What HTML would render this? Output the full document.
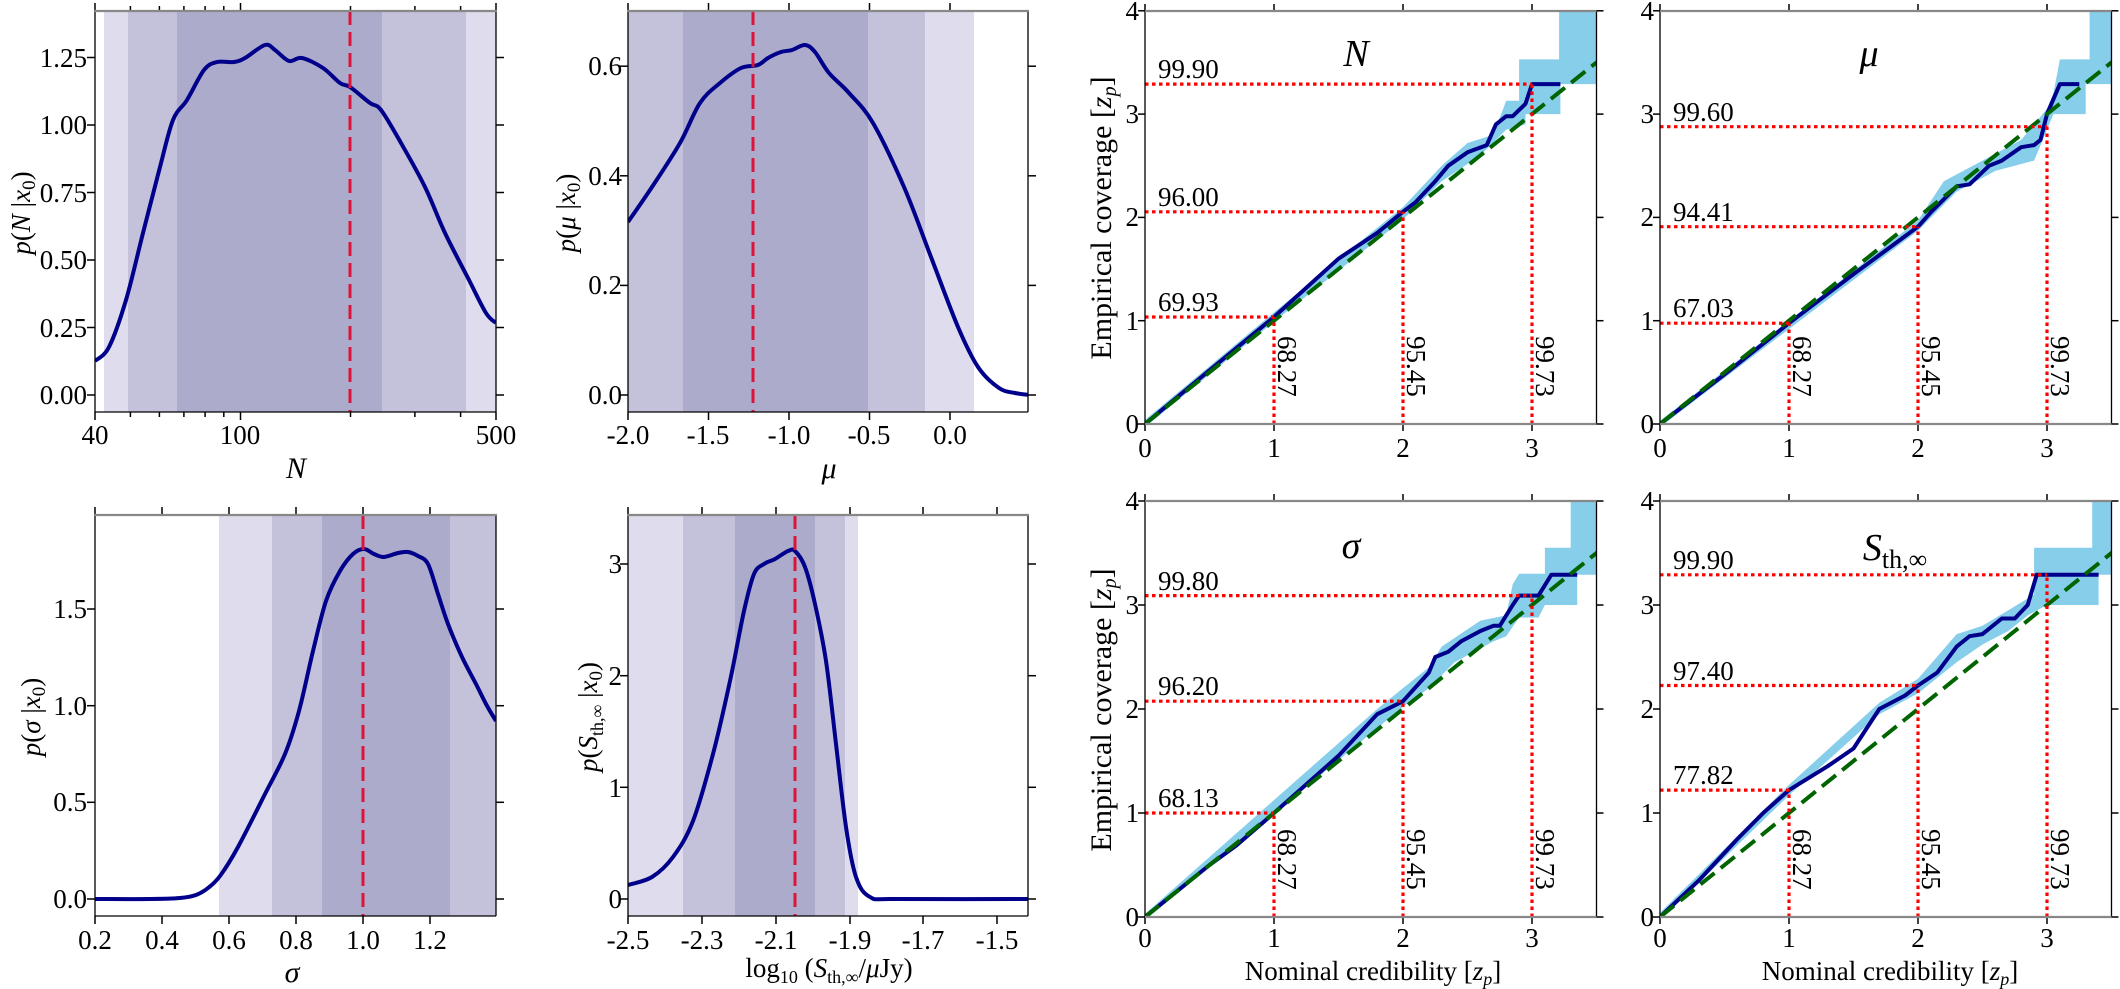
<!DOCTYPE html>
<html><head><meta charset="utf-8"><style>
html,body{margin:0;padding:0;background:#fff;}
svg{display:block;}
text{font-family:"Liberation Serif",serif;font-size:27px;fill:#000;}
.it{font-style:italic;}
</style></head><body>
<svg id="s" width="2120" height="989" viewBox="0 0 2120 989" xmlns="http://www.w3.org/2000/svg">
<defs>
<clipPath id="cp1"><rect x="95" y="11" width="401" height="401"/></clipPath>
<clipPath id="cp2"><rect x="628" y="11" width="400" height="401"/></clipPath>
<clipPath id="cp3"><rect x="95" y="515" width="401" height="401"/></clipPath>
<clipPath id="cp4"><rect x="628" y="515" width="400" height="401"/></clipPath>
<clipPath id="cc1"><rect x="1145" y="11" width="451.5" height="413"/></clipPath>
<clipPath id="cc2"><rect x="1660" y="11" width="451.5" height="413"/></clipPath>
<clipPath id="cc3"><rect x="1145" y="501" width="451.5" height="416"/></clipPath>
<clipPath id="cc4"><rect x="1660" y="501" width="451.5" height="416"/></clipPath>
</defs>
<g id="g"></g>
<g>
<text x="87" y="404" text-anchor="end">0.00</text>
<text x="87" y="337" text-anchor="end">0.25</text>
<text x="87" y="269" text-anchor="end">0.50</text>
<text x="87" y="202" text-anchor="end">0.75</text>
<text x="87" y="134" text-anchor="end">1.00</text>
<text x="87" y="67" text-anchor="end">1.25</text>
<text x="95" y="444" text-anchor="middle">40</text>
<text x="240" y="444" text-anchor="middle">100</text>
<text x="496" y="444" text-anchor="middle">500</text>
<text x="296" y="478" text-anchor="middle" class="it" style="font-size:30px">N</text>
<text transform="translate(30,213) rotate(-90)" text-anchor="middle"><tspan class="it">p</tspan>(<tspan class="it">N</tspan> |<tspan class="it">x</tspan><tspan style="font-size:19px" dy="5">0</tspan><tspan dy="-5">)</tspan></text>
<text x="622" y="404" text-anchor="end">0.0</text>
<text x="622" y="294" text-anchor="end">0.2</text>
<text x="622" y="185" text-anchor="end">0.4</text>
<text x="622" y="75" text-anchor="end">0.6</text>
<text x="628" y="444" text-anchor="middle">-2.0</text>
<text x="708" y="444" text-anchor="middle">-1.5</text>
<text x="789" y="444" text-anchor="middle">-1.0</text>
<text x="869" y="444" text-anchor="middle">-0.5</text>
<text x="950" y="444" text-anchor="middle">0.0</text>
<text x="829" y="478" text-anchor="middle" class="it" style="font-size:30px">μ</text>
<text transform="translate(575,213) rotate(-90)" text-anchor="middle"><tspan class="it">p</tspan>(<tspan class="it">μ</tspan> |<tspan class="it">x</tspan><tspan style="font-size:19px" dy="5">0</tspan><tspan dy="-5">)</tspan></text>
<text x="87" y="908" text-anchor="end">0.0</text>
<text x="87" y="811" text-anchor="end">0.5</text>
<text x="87" y="715" text-anchor="end">1.0</text>
<text x="87" y="618" text-anchor="end">1.5</text>
<text x="95" y="949" text-anchor="middle">0.2</text>
<text x="162" y="949" text-anchor="middle">0.4</text>
<text x="229" y="949" text-anchor="middle">0.6</text>
<text x="296" y="949" text-anchor="middle">0.8</text>
<text x="363" y="949" text-anchor="middle">1.0</text>
<text x="430" y="949" text-anchor="middle">1.2</text>
<text x="292" y="982" text-anchor="middle" class="it" style="font-size:30px">σ</text>
<text transform="translate(40,717) rotate(-90)" text-anchor="middle"><tspan class="it">p</tspan>(<tspan class="it">σ</tspan> |<tspan class="it">x</tspan><tspan style="font-size:19px" dy="5">0</tspan><tspan dy="-5">)</tspan></text>
<text x="622" y="908" text-anchor="end">0</text>
<text x="622" y="797" text-anchor="end">1</text>
<text x="622" y="685" text-anchor="end">2</text>
<text x="622" y="573" text-anchor="end">3</text>
<text x="628" y="949" text-anchor="middle">-2.5</text>
<text x="702" y="949" text-anchor="middle">-2.3</text>
<text x="776" y="949" text-anchor="middle">-2.1</text>
<text x="850" y="949" text-anchor="middle">-1.9</text>
<text x="923" y="949" text-anchor="middle">-1.7</text>
<text x="997" y="949" text-anchor="middle">-1.5</text>
<text x="829" y="977" text-anchor="middle">log<tspan style="font-size:18px" dy="6">10</tspan><tspan dy="-6"> (</tspan><tspan class="it">S</tspan><tspan style="font-size:18px" dy="6">th,∞</tspan><tspan dy="-6">/</tspan><tspan class="it">μ</tspan>Jy)</text>
<text transform="translate(597,717) rotate(-90)" text-anchor="middle"><tspan class="it">p</tspan>(<tspan class="it">S</tspan><tspan style="font-size:18px" dy="6">th,∞</tspan><tspan dy="-6"> |</tspan><tspan class="it">x</tspan><tspan style="font-size:19px" dy="5">0</tspan><tspan dy="-5">)</tspan></text>

<text x="1139" y="433" text-anchor="end">0</text>
<text x="1139" y="330" text-anchor="end">1</text>
<text x="1139" y="226" text-anchor="end">2</text>
<text x="1139" y="123" text-anchor="end">3</text>
<text x="1139" y="20" text-anchor="end">4</text>
<text x="1654" y="433" text-anchor="end">0</text>
<text x="1654" y="330" text-anchor="end">1</text>
<text x="1654" y="226" text-anchor="end">2</text>
<text x="1654" y="123" text-anchor="end">3</text>
<text x="1654" y="20" text-anchor="end">4</text>
<text x="1145" y="457" text-anchor="middle">0</text>
<text x="1274" y="457" text-anchor="middle">1</text>
<text x="1403" y="457" text-anchor="middle">2</text>
<text x="1532" y="457" text-anchor="middle">3</text>
<text x="1660" y="457" text-anchor="middle">0</text>
<text x="1789" y="457" text-anchor="middle">1</text>
<text x="1918" y="457" text-anchor="middle">2</text>
<text x="2047" y="457" text-anchor="middle">3</text>
<text transform="translate(1111,218) rotate(-90)" text-anchor="middle" style="font-size:30px">Empirical coverage [<tspan class="it">z</tspan><tspan class="it" style="font-size:20px" dy="5">p</tspan><tspan dy="-5">]</tspan></text>
<text x="1356" y="66" text-anchor="middle" class="it" style="font-size:38px">N</text>
<text x="1869" y="66" text-anchor="middle" class="it" style="font-size:38px">μ</text>
<text x="1158" y="311">69.93</text>
<text x="1158" y="206">96.00</text>
<text x="1158" y="78">99.90</text>
<text x="1673" y="317">67.03</text>
<text x="1673" y="221">94.41</text>
<text x="1673" y="121">99.60</text>
<text transform="translate(1278,336) rotate(90)">68.27</text>
<text transform="translate(1407,336) rotate(90)">95.45</text>
<text transform="translate(1536,336) rotate(90)">99.73</text>
<text transform="translate(1793,336) rotate(90)">68.27</text>
<text transform="translate(1922,336) rotate(90)">95.45</text>
<text transform="translate(2051,336) rotate(90)">99.73</text>

<text x="1139" y="926" text-anchor="end">0</text>
<text x="1139" y="822" text-anchor="end">1</text>
<text x="1139" y="718" text-anchor="end">2</text>
<text x="1139" y="614" text-anchor="end">3</text>
<text x="1139" y="510" text-anchor="end">4</text>
<text x="1654" y="926" text-anchor="end">0</text>
<text x="1654" y="822" text-anchor="end">1</text>
<text x="1654" y="718" text-anchor="end">2</text>
<text x="1654" y="614" text-anchor="end">3</text>
<text x="1654" y="510" text-anchor="end">4</text>
<text x="1145" y="947" text-anchor="middle">0</text>
<text x="1274" y="947" text-anchor="middle">1</text>
<text x="1403" y="947" text-anchor="middle">2</text>
<text x="1532" y="947" text-anchor="middle">3</text>
<text x="1660" y="947" text-anchor="middle">0</text>
<text x="1789" y="947" text-anchor="middle">1</text>
<text x="1918" y="947" text-anchor="middle">2</text>
<text x="2047" y="947" text-anchor="middle">3</text>
<text transform="translate(1111,710) rotate(-90)" text-anchor="middle" style="font-size:30px">Empirical coverage [<tspan class="it">z</tspan><tspan class="it" style="font-size:20px" dy="5">p</tspan><tspan dy="-5">]</tspan></text>
<text x="1373" y="980" text-anchor="middle">Nominal credibility [<tspan class="it">z</tspan><tspan class="it" style="font-size:18px" dy="5">p</tspan><tspan dy="-5">]</tspan></text>
<text x="1890" y="980" text-anchor="middle">Nominal credibility [<tspan class="it">z</tspan><tspan class="it" style="font-size:18px" dy="5">p</tspan><tspan dy="-5">]</tspan></text>
<text x="1351" y="558" text-anchor="middle" class="it" style="font-size:38px">σ</text>
<text x="1895" y="560" text-anchor="middle"><tspan class="it" style="font-size:38px">S</tspan><tspan style="font-size:26px" dy="8">th,∞</tspan></text>
<text x="1158" y="807">68.13</text>
<text x="1158" y="695">96.20</text>
<text x="1158" y="590">99.80</text>
<text x="1673" y="784">77.82</text>
<text x="1673" y="680">97.40</text>
<text x="1673" y="569">99.90</text>
<text transform="translate(1278,829) rotate(90)">68.27</text>
<text transform="translate(1407,829) rotate(90)">95.45</text>
<text transform="translate(1536,829) rotate(90)">99.73</text>
<text transform="translate(1793,829) rotate(90)">68.27</text>
<text transform="translate(1922,829) rotate(90)">95.45</text>
<text transform="translate(2051,829) rotate(90)">99.73</text>
</g>
</svg>
<script>
(function(){
var h='';
var DARK='#adabcb',MID='#c4c2da',LIGHT='#dfdded';
function rect(x1,y1,x2,y2,c){h+='<rect x="'+x1+'" y="'+y1+'" width="'+(x2-x1)+'" height="'+(y2-y1)+'" fill="'+c+'"/>';}
function ln(x1,y1,x2,y2,st){h+='<line x1="'+x1+'" y1="'+y1+'" x2="'+x2+'" y2="'+y2+'" '+st+'/>';}
function smooth(p){var d='M'+p[0][0]+','+p[0][1];for(var i=0;i<p.length-1;i++){var p0=p[i-1]||p[i],p1=p[i],p2=p[i+1],p3=p[i+2]||p2;
var c1x=p1[0]+(p2[0]-p0[0])/6,c1y=p1[1]+(p2[1]-p0[1])/6,c2x=p2[0]-(p3[0]-p1[0])/6,c2y=p2[1]-(p3[1]-p1[1])/6;
d+='C'+c1x.toFixed(1)+','+c1y.toFixed(1)+' '+c2x.toFixed(1)+','+c2y.toFixed(1)+' '+p2[0]+','+p2[1];}return d;}
var TK='stroke="#000" stroke-width="1.5"';
function frame(x1,y1,x2,y2,xt,yt,xmaj){
  xt.forEach(function(t){var L=(xmaj&&xmaj.indexOf(t)<0)?5:8;ln(t,y2,t,y2+L,TK);ln(t,y1,t,y1-L,TK);});
  yt.forEach(function(t){ln(x1,t,x1-8,t,TK);ln(x2,t,x2+8,t,TK);});
  ln(x1,y1,x1,y2,'stroke="#000" stroke-width="1.3"');
  ln(x2,y1,x2,y2,'stroke="#000" stroke-width="1.3"');
  ln(x1,y2,x2,y2,'stroke="#000" stroke-width="1.3"');
  ln(x1-1,y1,x2+1,y1,'stroke="#888" stroke-width="2.2"');
}
function dens(cp,x1,y1,x2,y2,bands,red,pts){
  bands.forEach(function(b){rect(b[0],y1,b[1],y2,b[2]);});
  h+='<g clip-path="url(#'+cp+')"><path d="'+smooth(pts)+'" fill="none" stroke="#00008b" stroke-width="4" stroke-linejoin="round"/></g>';
  ln(red,y1,red,y2,'stroke="#dc143c" stroke-width="3" stroke-dasharray="14 7"');
}
var logt=[40,50,60,70,80,90,100,200,300,400,500].map(function(v){return +(95+(Math.log10(v)-Math.log10(40))*365.6).toFixed(1);});
dens('cp1',95,11,496,412,[[104,496,LIGHT],[128,466,MID],[177,382,DARK]],350,
[[95,361],[109,347],[126,300],[143,233],[160,167],[173,120],[187,100],[204,70],[217,62],[234,62],[245,58],[265,45],[275,50],[289,61],[302,58],[323,68],[340,83],[350,87],[370,103],[381,110],[401,143],[425,187],[445,233],[469,280],[486,313],[496,323]]);
frame(95,11,496,412,logt,[395,327.5,260,192.5,125,57.5],[logt[0],logt[6],logt[10]]);
dens('cp2',628,11,1028,412,[[628,683,MID],[683,868,DARK],[868,925,MID],[925,974,LIGHT]],753,
[[628,222],[652,187],[680,143],[700,103],[720,83],[741,68],[758,65],[768,58],[781,52],[792,50],[805,45],[815,52],[829,73],[849,93],[873,123],[904,187],[931,257],[958,327],[978,367],[999,388],[1015,393],[1030,395]]);
frame(628,11,1028,412,[628,708.5,789,869.5,950],[395,285.4,175.8,66.2]);
dens('cp3',95,515,496,916,[[219,496,LIGHT],[272,496,MID],[322,450,DARK]],363,
[[95,899],[150,899],[180,898],[196,895],[208,888],[220,876],[238,847],[265,794],[285,754],[299,711],[313,651],[326,601],[340,571],[353,554],[364,549],[374,554],[384,557],[398,553],[408,552],[418,556],[428,564],[438,594],[448,624],[462,657],[476,684],[486,704],[496,721]]);
frame(95,515,496,916,[95,162,229,296,363,430],[899,802.3,705.7,609]);
dens('cp4',628,515,1028,916,[[628,858,LIGHT],[683,845,MID],[735,815,DARK]],795,
[[628,885],[652,877],[673,857],[693,821],[713,754],[730,681],[744,611],[754,574],[764,564],[775,559],[788,551],[795,551],[805,567],[815,604],[826,661],[836,744],[846,827],[856,877],[870,897],[897,899],[1030,899]]);
frame(628,515,1028,916,[628,702,776,850,923,997],[899,787.3,675.7,564]);

function cov(cp,x0,y0,top,vs,curve,up,lo,hl){
  var S=129,X=function(v){return (x0+v*S).toFixed(1);},Y=function(v){return (y0-v*vs).toFixed(1);};
  var poly=up.concat(lo).map(function(p){return X(p[0])+','+Y(p[1]);}).join(' ');
  h+='<g clip-path="url(#'+cp+')">';
  h+='<polygon points="'+poly+'" fill="#87ceeb"/>';
  h+='<polyline points="'+curve.map(function(p){return X(p[0])+','+Y(p[1]);}).join(' ')+'" fill="none" stroke="#00008b" stroke-width="4" stroke-linejoin="round"/>';
  h+='<line x1="'+X(0)+'" y1="'+Y(0)+'" x2="'+X(3.6)+'" y2="'+Y(3.6)+'" stroke="#006400" stroke-width="4" stroke-dasharray="18 8"/>';
  h+='</g>';
  hl.forEach(function(p){
    ln(X(0),Y(p[1]),X(p[0]),Y(p[1]),'stroke="#ff0000" stroke-width="3.2" stroke-dasharray="3.5 3.5"');
    ln(X(p[0]),Y(0),X(p[0]),Y(p[1]),'stroke="#ff0000" stroke-width="3.2" stroke-dasharray="3.5 3.5"');
  });
  var x2=x0+3.5*S;
  [0,1,2,3,4].forEach(function(v){ln(x0,Y(v),x0-7,Y(v),TK);ln(x2,Y(v),x2+7,Y(v),TK);});
  [0,1,2,3].forEach(function(v){ln(X(v),y0,X(v),y0+7,TK);ln(X(v),top,X(v),top-7,TK);});
  ln(x0,top,x0,y0,'stroke="#000" stroke-width="1.3"');
  ln(x2,top,x2,y0,'stroke="#000" stroke-width="1.3"');
  ln(x0,y0,x2,y0,'stroke="#888" stroke-width="2.2"');
  ln(x0,top,x2,top,'stroke="#888" stroke-width="2.2"');
}
cov('cc1',1145,424,11,103.3,
[[0,0],[0.5,0.52],[1,1.036],[1.5,1.6],[1.8,1.85],[2,2.054],[2.1,2.15],[2.25,2.35],[2.35,2.5],[2.5,2.63],[2.65,2.7],[2.72,2.9],[2.8,2.98],[2.85,2.98],[2.95,3.1],[3.0,3.29],[3.22,3.29]],
[[0,0.04],[1,1.08],[1.8,1.9],[2,2.1],[2.3,2.5],[2.5,2.72],[2.7,2.8],[2.8,3.13],[2.9,3.13],[2.9,3.53],[3.21,3.53],[3.21,4.1],[3.6,4.1]],
[[3.6,3.29],[3.22,3.29],[3.22,3.0],[2.95,3.0],[2.95,2.9],[2.8,2.85],[2.6,2.6],[2.3,2.35],[2,1.98],[1,0.99],[0,-0.03]],
[[1,1.036],[2,2.054],[3,3.29]]);
cov('cc2',1660,424,11,103.3,
[[0,0],[0.5,0.48],[1,0.976],[1.5,1.45],[2,1.91],[2.1,2.05],[2.3,2.3],[2.4,2.32],[2.55,2.5],[2.65,2.55],[2.8,2.68],[2.9,2.7],[2.95,2.75],[3.0,3.0],[3.1,3.29],[3.25,3.29]],
[[0,0.03],[2,1.97],[2.2,2.35],[2.5,2.55],[2.8,2.75],[3.0,3.05],[3.05,3.2],[3.1,3.53],[3.33,3.53],[3.33,4.1],[3.6,4.1]],
[[3.6,3.29],[3.3,3.29],[3.3,3.0],[3.05,3.0],[3.0,2.85],[2.9,2.55],[2.6,2.45],[2.3,2.25],[2,1.87],[0,-0.03]],
[[1,0.976],[2,1.91],[3,2.878]]);
cov('cc3',1145,917,501,104,
[[0,0],[0.5,0.5],[0.7,0.68],[1,1.0],[1.5,1.55],[1.8,1.95],[2,2.075],[2.2,2.35],[2.25,2.5],[2.35,2.55],[2.45,2.65],[2.6,2.75],[2.7,2.8],[2.75,2.8],[2.85,3.0],[2.9,3.09],[3.05,3.09],[3.15,3.29],[3.35,3.29]],
[[0,0.03],[1.8,2.0],[2.2,2.4],[2.3,2.6],[2.6,2.85],[2.8,2.9],[2.85,3.2],[2.9,3.3],[3.1,3.3],[3.1,3.55],[3.3,3.55],[3.3,4.1],[3.6,4.1]],
[[3.6,3.29],[3.35,3.29],[3.35,3.0],[3.1,3.0],[3.05,2.88],[2.9,2.88],[2.8,2.7],[2.7,2.65],[2.4,2.45],[2.2,2.2],[2,2.02],[0,-0.03]],
[[1,1.0],[2,2.075],[3,3.09]]);
cov('cc4',1660,917,501,104,
[[0,0],[0.3,0.35],[0.6,0.75],[0.8,1.0],[1,1.22],[1.3,1.45],[1.5,1.62],[1.7,2.0],[1.9,2.13],[2,2.226],[2.15,2.35],[2.3,2.6],[2.4,2.7],[2.5,2.72],[2.65,2.87],[2.75,2.87],[2.85,3.0],[2.92,3.29],[3.4,3.29]],
[[0,0.04],[1,1.27],[1.7,2.06],[2,2.29],[2.3,2.72],[2.5,2.8],[2.7,2.95],[2.9,3.1],[2.9,3.55],[3.35,3.55],[3.35,4.1],[3.6,4.1]],
[[3.6,3.29],[3.4,3.29],[3.4,3.0],[3.0,3.0],[2.85,2.9],[2.7,2.75],[2.5,2.62],[2.3,2.45],[2,2.15],[1.7,1.95],[1,1.17],[0,-0.03]],
[[1,1.22],[2,2.226],[3,3.29]]);
document.getElementById('g').innerHTML=h;
})();
</script>
</body></html>
